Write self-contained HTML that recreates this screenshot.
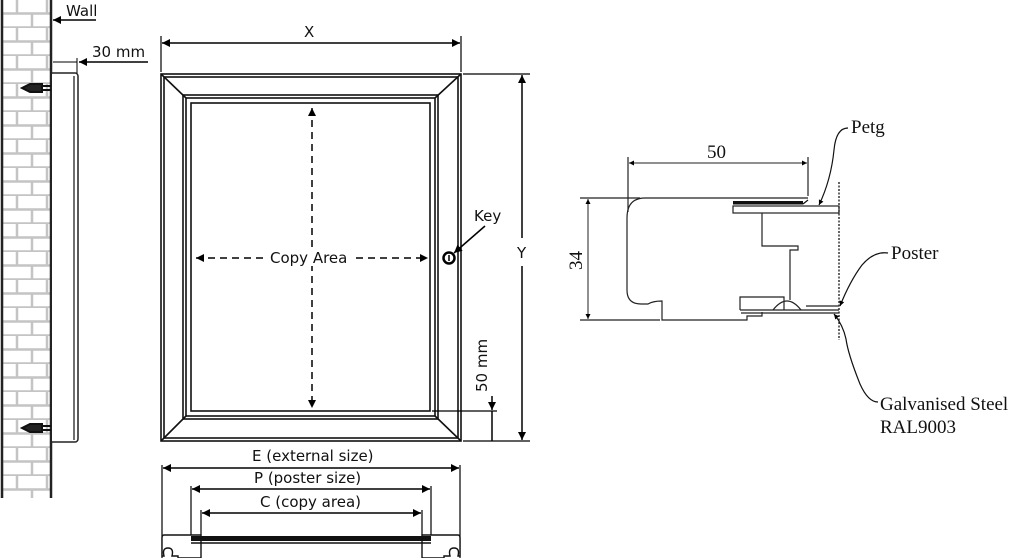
<!DOCTYPE html>
<html><head><meta charset="utf-8"><style>
html,body{margin:0;padding:0;background:#fff}
svg{display:block}
.s{font-family:"DejaVu Sans","Liberation Sans",sans-serif;font-size:15px;fill:#111}
.r{font-family:"Liberation Serif",serif;font-size:19px;fill:#111}
</style></head><body>
<svg width="1024" height="558" viewBox="0 0 1024 558" xmlns="http://www.w3.org/2000/svg">
<defs>
<marker id="a" viewBox="0 0 10 10" refX="10" refY="5" markerWidth="10" markerHeight="8" orient="auto-start-reverse" markerUnits="userSpaceOnUse"><path d="M0,0L10,5L0,10z" fill="#000"/></marker>
<marker id="b" viewBox="0 0 10 10" refX="10" refY="5" markerWidth="8" markerHeight="5" orient="auto-start-reverse" markerUnits="userSpaceOnUse"><path d="M0,0L10,5L0,10z" fill="#000"/></marker>
<pattern id="brick" x="2" y="0" width="30" height="28" patternUnits="userSpaceOnUse">
<rect width="30" height="28" fill="#fff"/>
<path d="M0,13.5H30M0,27.5H30M15,0V14M0,14V28M30,14V28" stroke="#c4c4c4" stroke-width="2.5" fill="none"/>
</pattern>
</defs>
<rect x="3" y="0" width="48" height="498" fill="url(#brick)"/>
<line x1="2" y1="0" x2="2" y2="498" stroke="#222" stroke-width="2.5"/>
<line x1="51" y1="0" x2="51" y2="498" stroke="#222" stroke-width="2.5"/>
<path d="M52,73H75a3,3 0 0 1 3,3V439a3,3 0 0 1 -3,3H52" fill="#fff" stroke="#222" stroke-width="1.5"/>
<line x1="74" y1="76" x2="74" y2="440" stroke="#222" stroke-width="1.3"/>
<g stroke="#111" stroke-width="2" fill="#222">
<path d="M51,86H36M51,90H36" /><path d="M22,88L30,84L42,84L42,92L30,92Z"/>
<path d="M51,426H36M51,430H36"/><path d="M22,428L30,424L42,424L42,432L30,432Z"/>
</g>
<line x1="96" y1="20" x2="53" y2="20" stroke="#000" stroke-width="1.5" marker-end="url(#a)"/>
<text class="s" x="66" y="16">Wall</text>
<line x1="148" y1="62" x2="79" y2="62" stroke="#000" stroke-width="1.5" marker-end="url(#a)"/>
<line x1="53" y1="62" x2="77" y2="62" stroke="#000" stroke-width="1"/>
<line x1="77" y1="58" x2="77" y2="73" stroke="#000" stroke-width="1"/>
<text class="s" x="92" y="57">30 mm</text>
<g fill="none" stroke="#111" stroke-width="1.6">
<rect x="161" y="74" width="300" height="367"/>
<rect x="164" y="77" width="294" height="361"/>
<rect x="183" y="95" width="255" height="324"/>
<rect x="186" y="98" width="249" height="318"/>
<rect x="191" y="103" width="239" height="308"/>
<path d="M161,74L186,98M461,74L435,98M161,441L186,416M461,441L435,416"/>
</g>
<circle cx="449" cy="258" r="5.5" fill="#fff" stroke="#000" stroke-width="2.5"/>
<line x1="449" y1="255" x2="449" y2="261" stroke="#000" stroke-width="1.5"/>
<line x1="485" y1="226" x2="454" y2="253" stroke="#000" stroke-width="1.5" marker-end="url(#a)"/>
<text class="s" x="474" y="221">Key</text>
<g stroke="#000" stroke-width="1.5" stroke-dasharray="7,5">
<line x1="312" y1="108" x2="312" y2="408" marker-start="url(#a)" marker-end="url(#a)"/>
<line x1="196" y1="258" x2="264" y2="258" marker-start="url(#a)"/>
<line x1="356" y1="258" x2="428" y2="258" marker-end="url(#a)"/>
</g>
<rect x="266" y="248" width="88" height="18" fill="#fff"/>
<text class="s" x="270" y="263">Copy Area</text>
<line x1="161" y1="36" x2="161" y2="72" stroke="#000" stroke-width="1.2"/>
<line x1="461" y1="36" x2="461" y2="72" stroke="#000" stroke-width="1.2"/>
<line x1="162" y1="43" x2="460" y2="43" stroke="#000" stroke-width="1.5" marker-start="url(#a)" marker-end="url(#a)"/>
<text class="s" x="304" y="37">X</text>
<line x1="463" y1="74" x2="530" y2="74" stroke="#000" stroke-width="1.2"/>
<line x1="463" y1="441" x2="530" y2="441" stroke="#000" stroke-width="1.2"/>
<line x1="522" y1="75" x2="522" y2="238" stroke="#000" stroke-width="1.5" marker-start="url(#a)"/>
<line x1="522" y1="266" x2="522" y2="440" stroke="#000" stroke-width="1.5" marker-end="url(#a)"/>
<text class="s" x="517" y="258">Y</text>
<line x1="432" y1="411" x2="497" y2="411" stroke="#000" stroke-width="1.2"/>
<line x1="492" y1="396" x2="492" y2="410" stroke="#000" stroke-width="1.5" marker-end="url(#a)"/>
<line x1="492" y1="411" x2="492" y2="441" stroke="#000" stroke-width="1.5"/>
<text class="s" transform="translate(487,392) rotate(-90)">50 mm</text>
<text class="s" x="252" y="461">E (external size)</text>
<line x1="162" y1="465" x2="162" y2="558" stroke="#000" stroke-width="1.2"/>
<line x1="460" y1="465" x2="460" y2="558" stroke="#000" stroke-width="1.2"/>
<line x1="163" y1="468" x2="459" y2="468" stroke="#000" stroke-width="1.5" marker-start="url(#a)" marker-end="url(#a)"/>
<text class="s" x="254" y="483">P (poster size)</text>
<line x1="191" y1="486" x2="191" y2="535" stroke="#000" stroke-width="1.2"/>
<line x1="431" y1="486" x2="431" y2="535" stroke="#000" stroke-width="1.2"/>
<line x1="192" y1="489" x2="430" y2="489" stroke="#000" stroke-width="1.5" marker-start="url(#a)" marker-end="url(#a)"/>
<text class="s" x="260" y="507">C (copy area)</text>
<line x1="201" y1="510" x2="201" y2="535" stroke="#000" stroke-width="1.2"/>
<line x1="422" y1="510" x2="422" y2="535" stroke="#000" stroke-width="1.2"/>
<line x1="202" y1="513" x2="421" y2="513" stroke="#000" stroke-width="1.5" marker-start="url(#a)" marker-end="url(#a)"/>
<path d="M201,535H164q-2,0 -2,3V556h2q-2,-8 4,-8q6,0 4,8h6V558h23Z" fill="#fff" stroke="#111" stroke-width="1.4"/>
<path d="M422,535H458q2,0 2,3V556h-2q2,-8 -4,-8q-6,0 -4,8h-6V558h-22Z" fill="#fff" stroke="#111" stroke-width="1.4"/>
<rect x="191" y="536" width="240" height="5" fill="#111"/>
<line x1="191" y1="543" x2="431" y2="543" stroke="#111" stroke-width="1.6"/>
<g fill="none" stroke="#222" stroke-width="1.2">
<line x1="628" y1="157" x2="628" y2="212"/>
<line x1="808" y1="157" x2="808" y2="196"/>
<line x1="580" y1="198" x2="640" y2="198"/>
<line x1="580" y1="320" x2="660" y2="320"/>
<path d="M808,198H645q-18,0 -18,20V290q0,14 14,14h7q5,-3 14,-3v19H747v-4h15v-4"/>
<rect x="733" y="206" width="106" height="7" fill="#fff"/>
<path d="M762,213V246H798v4h-8V300"/>
<path d="M740,310V297h44v13"/>
<path d="M740,310H839M741,313H839"/>
<path d="M773,310q14,-18 28,0"/>
<path d="M806,306H839"/>
</g>
<rect x="733" y="201" width="70" height="3.5" fill="#111"/>
<line x1="803" y1="204" x2="808" y2="200" stroke="#111" stroke-width="1.2"/>
<line x1="839" y1="182" x2="839" y2="340" stroke="#333" stroke-width="1.5" stroke-dasharray="2,1.5"/>
<line x1="629" y1="163" x2="807" y2="163" stroke="#222" stroke-width="1" marker-start="url(#b)" marker-end="url(#b)"/>
<text class="r" x="707" y="158">50</text>
<line x1="588" y1="199" x2="588" y2="319" stroke="#222" stroke-width="1" marker-start="url(#b)" marker-end="url(#b)"/>
<text class="r" transform="translate(582,270) rotate(-90)">34</text>
<g fill="none" stroke="#111" stroke-width="1.2">
<path d="M848,128q-12,0 -14,22q-3,30 -15,55" marker-end="url(#b)"/>
<path d="M888,253q-14,-2 -26,12q-12,16 -22,41" marker-end="url(#b)"/>
<path d="M878,402q-10,0 -18,-18q-12,-30 -14,-45q-3,-14 -12,-25" marker-end="url(#b)"/>
</g>
<text class="r" x="851" y="133">Petg</text>
<text class="r" x="891" y="259">Poster</text>
<text class="r" x="880" y="410">Galvanised Steel</text>
<text class="r" x="880" y="433">RAL9003</text>
</svg>
</body></html>
